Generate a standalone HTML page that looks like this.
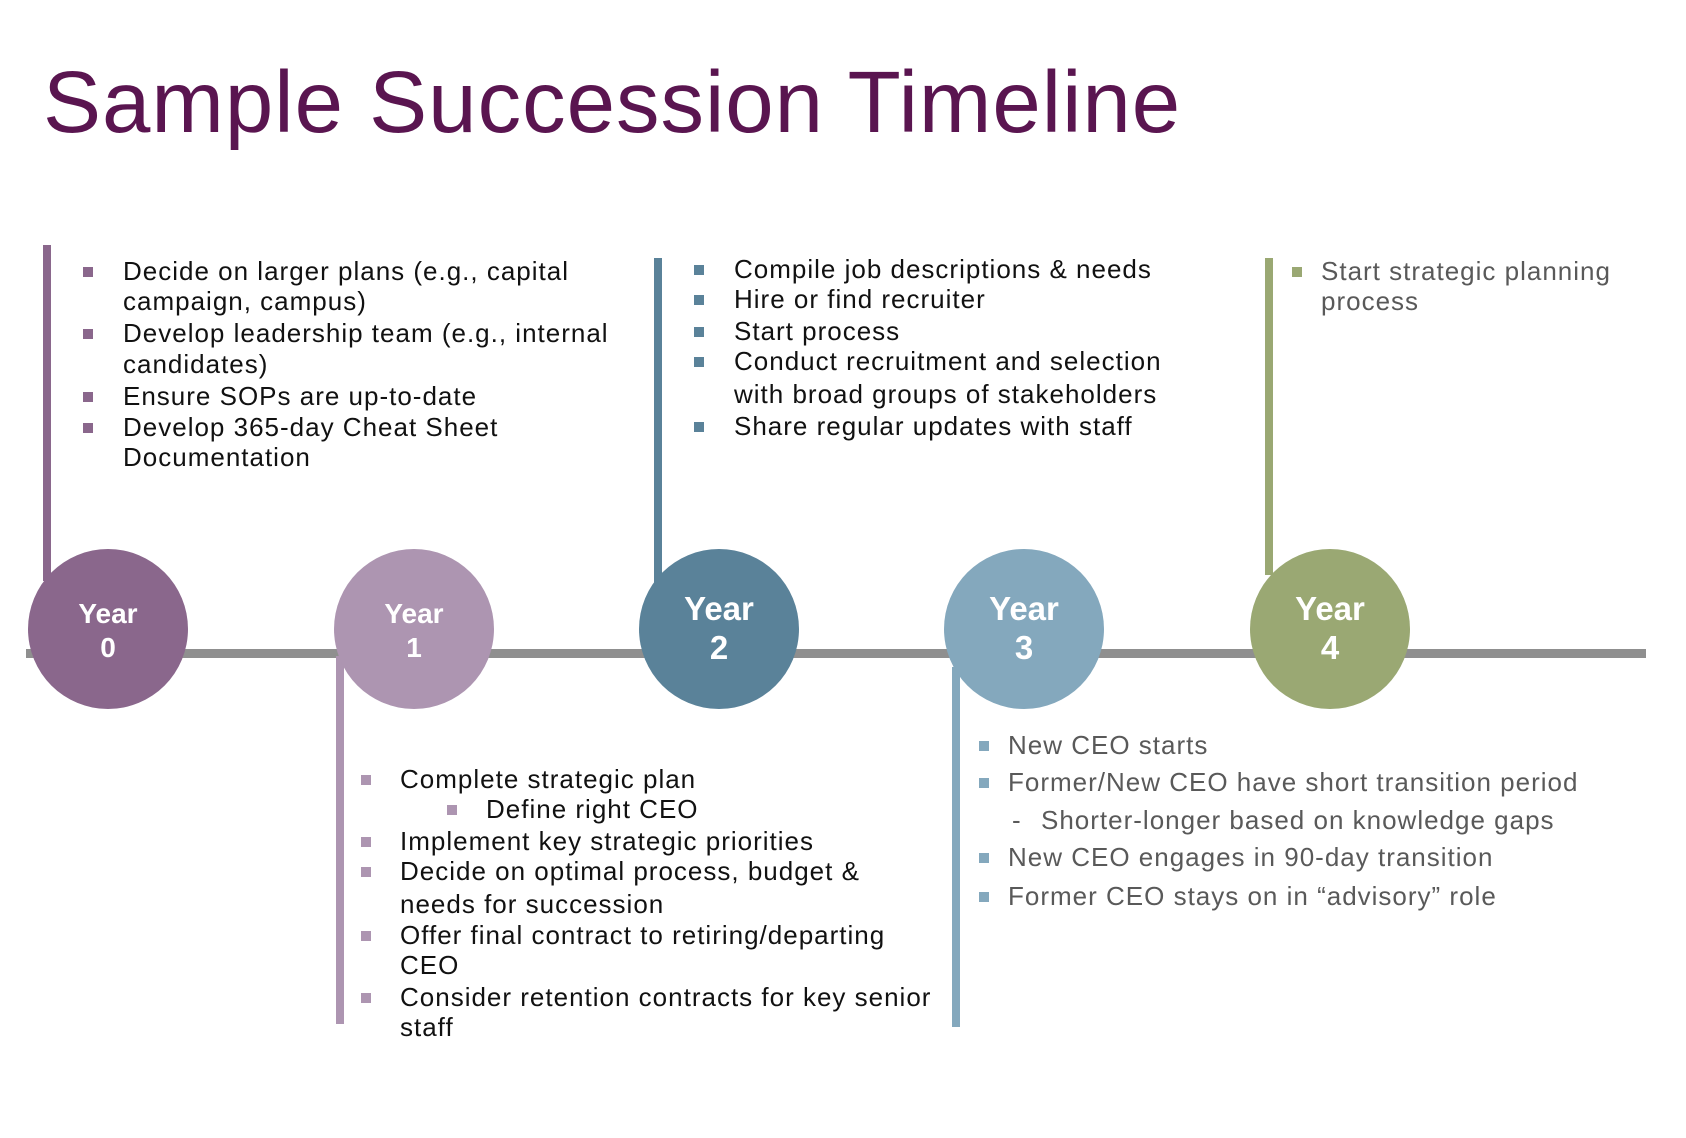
<!DOCTYPE html>
<html><head><meta charset="utf-8"><style>
body{margin:0;width:1686px;height:1138px;background:#fff;position:relative;overflow:hidden;font-family:"Liberation Sans",sans-serif}
.a{position:absolute}
.t{position:absolute;white-space:nowrap;font-size:26px;letter-spacing:1px;line-height:30px;color:#111}
.g{color:#595959}
.b{position:absolute;width:10px;height:10px}
.c{position:absolute;width:160px;height:160px;border-radius:50%;color:#fff;font-weight:bold;text-align:center;box-sizing:border-box}
.c span{display:block;position:absolute;left:0;right:0}
</style></head><body>
<div class="a" style="left:43px;top:53px;font-size:87px;color:#5a1550;white-space:nowrap;letter-spacing:1px">Sample Succession Timeline</div>

<div class="a" style="left:26px;top:649px;width:1620px;height:9px;background:#8f8f8f"></div>

<div class="a" style="left:43px;top:245px;width:8px;height:336px;background:#8a678c"></div>
<div class="a" style="left:654px;top:258px;width:8px;height:328px;background:#5a8299"></div>
<div class="a" style="left:1265px;top:258px;width:8px;height:317px;background:#9aa873"></div>
<div class="a" style="left:336px;top:656px;width:8px;height:368px;background:#ad95b1"></div>
<div class="a" style="left:952px;top:667px;width:8px;height:360px;background:#84a8bd"></div>

<div class="c" style="left:28px;top:549px;background:#8a678c;font-size:28px"><span style="top:49px">Year</span><span style="top:83px">0</span></div>
<div class="c" style="left:334px;top:549px;background:#ad95b1;font-size:28px"><span style="top:49px">Year</span><span style="top:83px">1</span></div>
<div class="c" style="left:639px;top:549px;background:#5a8299;font-size:33px"><span style="top:41px">Year</span><span style="top:80px">2</span></div>
<div class="c" style="left:944px;top:549px;background:#84a8bd;font-size:33px"><span style="top:41px">Year</span><span style="top:80px">3</span></div>
<div class="c" style="left:1250px;top:549px;background:#9aa873;font-size:33px"><span style="top:41px">Year</span><span style="top:80px">4</span></div>

<!-- Year 0 -->
<div class="b" style="left:83px;top:267px;background:#8a678c"></div>
<div class="t" style="left:123px;top:256px">Decide on larger plans (e.g., capital</div>
<div class="t" style="left:123px;top:286px">campaign, campus)</div>
<div class="b" style="left:83px;top:329px;background:#8a678c"></div>
<div class="t" style="left:123px;top:318px">Develop leadership team (e.g., internal</div>
<div class="t" style="left:123px;top:349px">candidates)</div>
<div class="b" style="left:83px;top:392px;background:#8a678c"></div>
<div class="t" style="left:123px;top:381px">Ensure SOPs are up-to-date</div>
<div class="b" style="left:83px;top:423px;background:#8a678c"></div>
<div class="t" style="left:123px;top:412px">Develop 365-day Cheat Sheet</div>
<div class="t" style="left:123px;top:442px">Documentation</div>

<!-- Year 2 -->
<div class="b" style="left:694px;top:265px;background:#5a8299"></div>
<div class="t" style="left:734px;top:254px">Compile job descriptions &amp; needs</div>
<div class="b" style="left:694px;top:295px;background:#5a8299"></div>
<div class="t" style="left:734px;top:284px">Hire or find recruiter</div>
<div class="b" style="left:694px;top:327px;background:#5a8299"></div>
<div class="t" style="left:734px;top:316px">Start process</div>
<div class="b" style="left:694px;top:357px;background:#5a8299"></div>
<div class="t" style="left:734px;top:346px">Conduct recruitment and selection</div>
<div class="t" style="left:734px;top:379px">with broad groups of stakeholders</div>
<div class="b" style="left:694px;top:422px;background:#5a8299"></div>
<div class="t" style="left:734px;top:411px">Share regular updates with staff</div>

<!-- Year 4 -->
<div class="b" style="left:1292px;top:267px;background:#9aa873"></div>
<div class="t g" style="left:1321px;top:256px">Start strategic planning</div>
<div class="t g" style="left:1321px;top:286px">process</div>

<!-- Year 1 -->
<div class="b" style="left:361px;top:775px;background:#ad95b1"></div>
<div class="t" style="left:400px;top:764px">Complete strategic plan</div>
<div class="b" style="left:447px;top:805px;background:#ad95b1"></div>
<div class="t" style="left:486px;top:794px">Define right CEO</div>
<div class="b" style="left:361px;top:837px;background:#ad95b1"></div>
<div class="t" style="left:400px;top:826px">Implement key strategic priorities</div>
<div class="b" style="left:361px;top:867px;background:#ad95b1"></div>
<div class="t" style="left:400px;top:856px">Decide on optimal process, budget &amp;</div>
<div class="t" style="left:400px;top:889px">needs for succession</div>
<div class="b" style="left:361px;top:931px;background:#ad95b1"></div>
<div class="t" style="left:400px;top:920px">Offer final contract to retiring/departing</div>
<div class="t" style="left:400px;top:950px">CEO</div>
<div class="b" style="left:361px;top:993px;background:#ad95b1"></div>
<div class="t" style="left:400px;top:982px">Consider retention contracts for key senior</div>
<div class="t" style="left:400px;top:1012px">staff</div>

<!-- Year 3 -->
<div class="b" style="left:979px;top:741px;background:#84a8bd"></div>
<div class="t g" style="left:1008px;top:730px">New CEO starts</div>
<div class="b" style="left:979px;top:778px;background:#84a8bd"></div>
<div class="t g" style="left:1008px;top:767px">Former/New CEO have short transition period</div>
<div class="t g" style="left:1012px;top:805px">-</div>
<div class="t g" style="left:1041px;top:805px">Shorter-longer based on knowledge gaps</div>
<div class="b" style="left:979px;top:853px;background:#84a8bd"></div>
<div class="t g" style="left:1008px;top:842px">New CEO engages in 90-day transition</div>
<div class="b" style="left:979px;top:892px;background:#84a8bd"></div>
<div class="t g" style="left:1008px;top:881px">Former CEO stays on in “advisory” role</div>
</body></html>
